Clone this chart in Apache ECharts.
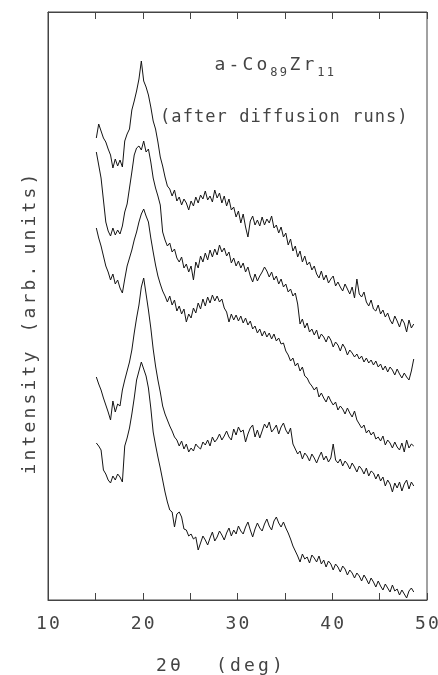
<!DOCTYPE html>
<html>
<head>
<meta charset="utf-8">
<script src="https://cdn.jsdelivr.net/npm/echarts@6/dist/echarts.min.js"></script>
<style>html,body{margin:0;padding:0;background:#fff;}#chart{width:438px;height:675px;}</style>
</head>
<body>
<div id="chart"></div>
<script>
// 2θ sampling grid (deg)
const twoTheta = [
15.10,15.35,15.60,15.85,16.10,16.35,16.60,16.85,17.10,17.35,17.60,17.85,
18.10,18.35,18.60,18.85,19.10,19.35,19.60,19.85,20.10,20.35,20.60,20.85,
21.10,21.35,21.60,21.85,22.10,22.35,22.60,22.85,23.10,23.35,23.60,23.85,
24.10,24.35,24.60,24.85,25.10,25.35,25.60,25.85,26.10,26.35,26.60,26.85,
27.10,27.35,27.60,27.85,28.10,28.35,28.60,28.85,29.10,29.35,29.60,29.85,
30.10,30.35,30.60,30.85,31.10,31.35,31.60,31.85,32.10,32.35,32.60,32.85,
33.10,33.35,33.60,33.85,34.10,34.35,34.60,34.85,35.10,35.35,35.60,35.85,
36.10,36.35,36.60,36.85,37.10,37.35,37.60,37.85,38.10,38.35,38.60,38.85,
39.10,39.35,39.60,39.85,40.10,40.35,40.60,40.85,41.10,41.35,41.60,41.85,
42.10,42.35,42.60,42.85,43.10,43.35,43.60,43.85,44.10,44.35,44.60,44.85,
45.10,45.35,45.60,45.85,46.10,46.35,46.60,46.85,47.10,47.35,47.60,47.85,
48.10,48.35,48.60
];

// intensity (arb. units), offset curves, top to bottom
const curve1 = [
462,476,469,462,458,451,445,432,441,434,
440,433,459,466,471,490,499,509,521,539,
519,513,505,493,479,471,458,443,434,423,
414,411,404,410,399,403,395,401,397,390,
399,394,403,397,405,401,409,400,404,398,
410,402,407,397,404,394,401,390,393,383,
389,377,386,373,363,379,384,375,380,374,
383,375,381,377,384,372,375,367,373,363,
367,355,361,349,354,343,349,338,344,335,
338,330,334,326,322,329,320,325,317,321,
324,314,318,313,309,316,311,306,313,302,
321,306,303,308,298,294,300,291,289,295,
286,290,283,287,280,276,284,279,273,281,
277,268,280,272,276
];
const curve2 = [
448,435,422,400,378,369,364,372,365,370,
366,374,388,396,412,428,445,452,454,450,
459,448,451,438,422,412,404,395,368,360,
354,357,348,351,342,338,343,332,336,328,
334,320,338,332,344,338,347,340,350,343,
351,345,355,348,352,344,348,337,342,334,
339,332,337,328,333,324,318,326,319,324,
328,333,329,323,328,320,324,316,321,313,
316,308,311,304,307,296,276,281,272,277,
268,271,265,270,261,266,263,258,264,260,
253,258,255,249,256,252,245,250,247,243,
246,241,244,238,242,237,240,235,239,233,
236,230,234,228,233,230,225,231,226,222,
227,223,220,229,241
];
const curve3 = [
372,362,354,344,334,328,320,326,316,320,
312,307,321,334,342,350,360,368,378,386,
391,384,378,362,348,335,324,316,309,304,
298,304,295,300,289,294,286,291,278,286,
282,292,287,297,291,301,294,303,297,305,
299,304,298,301,292,288,278,286,280,285,
279,284,277,282,275,279,271,274,267,271,
264,269,263,267,261,266,259,262,256,257,
249,245,239,242,234,237,229,233,224,222,
217,214,210,213,203,207,202,198,204,199,
195,198,190,194,191,186,192,187,183,189,
180,176,172,175,167,170,165,168,161,163,
159,164,155,160,157,152,158,153,150,157,
148,160,152,156,154
];
const curve4 = [
223,216,210,202,195,188,180,199,188,196,
194,210,220,229,238,250,267,282,295,313,
322,306,290,272,251,234,220,208,194,186,
180,174,169,163,160,154,159,151,156,148,
152,149,156,153,151,158,155,160,154,163,
158,161,166,160,164,169,163,160,171,165,
173,168,170,158,166,172,175,163,170,162,
169,176,172,178,168,171,175,166,173,177,
170,166,172,156,151,146,149,141,147,144,
139,146,142,137,143,148,140,144,138,142,
156,140,137,141,134,139,136,131,137,133,
128,134,131,126,132,124,129,127,121,126,
119,123,114,120,116,108,117,112,118,109,
116,120,111,118,114
];
const curve5 = [
157,154,150,130,126,120,117,124,120,126,
123,118,154,162,172,186,202,220,229,238,
231,224,212,192,168,155,143,132,120,108,
98,90,88,73,86,88,83,71,70,64,
66,61,63,50,57,64,60,55,62,68,
59,63,69,65,60,67,72,64,70,66,
74,69,66,73,78,70,63,71,77,72,
69,76,81,74,70,79,83,77,73,78,
72,67,61,54,49,44,38,46,41,43,
37,45,42,38,44,36,40,33,39,36,
30,36,33,28,34,31,25,30,27,22,
27,24,19,25,21,16,22,18,13,19,
14,10,16,12,8,15,9,11,5,10,
6,2,9,12,8
];
const xTickLabels = ['10', '20', '30', '40', '50'];

const FONT = "'DejaVu Sans Mono', monospace";
const TXT = '#444';

function spaced(str, cls, spCls) {
  return str.split('').map(function (ch) {
    return ch === ' ' ? '{' + spCls + '| }' : '{' + cls + '|' + ch + '}';
  }).join('');
}

const chart = echarts.init(document.getElementById('chart'), null, { renderer: 'canvas' });

const axisRich = {
  c: { fontFamily: FONT, fontSize: 18, color: TXT, width: 14, align: 'center', lineHeight: 20 },
  sp: { fontFamily: FONT, fontSize: 18, color: TXT, width: 8, align: 'center', lineHeight: 20 }
};

const seriesList = [curve1, curve2, curve3, curve4, curve5].map(function (c, k) {
  return {
    type: 'line',
    name: 'curve' + (k + 1),
    data: twoTheta.map(function (x, i) { return [x, c[i]]; }),
    showSymbol: false,
    symbol: 'none',
    smooth: false,
    lineStyle: { color: '#151515', width: 1 },
    animation: false,
    silent: true
  };
});

chart.setOption({
  animation: false,
  backgroundColor: '#fff',
  grid: {
    left: 48, right: 11, top: 12, bottom: 75,
    outerBoundsMode: 'none', containLabel: false,
    show: true, borderColor: '#444', borderWidth: 1
  },
  xAxis: [{
    type: 'value', min: 10, max: 50, interval: 5, position: 'bottom',
    axisLine: { show: true, lineStyle: { color: '#444', width: 1 } },
    axisTick: { show: true, inside: true, length: 7, lineStyle: { color: '#444' } },
    splitLine: { show: false },
    axisLabel: {
      margin: 14,
      formatter: function (v) {
        const s = String(v);
        return xTickLabels.indexOf(s) >= 0 ? spaced(s, 'c', 'sp') : '';
      },
      rich: { c: { fontFamily: FONT, fontSize: 18, color: TXT, width: 13, align: 'center', lineHeight: 20 } }
    },
    name: spaced('2θ    (deg)', 'c', 'sp'),
    nameLocation: 'middle',
    nameGap: 56,
    nameTextStyle: { rich: axisRich, padding: [0, 36, 0, 0] }
  }, {
    type: 'value', min: 10, max: 50, interval: 5, position: 'top',
    axisLine: { show: true, lineStyle: { color: '#444', width: 1 } },
    axisTick: { show: true, inside: true, length: 7, lineStyle: { color: '#444' } },
    splitLine: { show: false },
    axisLabel: { show: false }
  }],
  yAxis: [{
    type: 'value', min: 0, max: 588,
    axisLine: { show: true, lineStyle: { color: '#444', width: 1 } },
    axisTick: { show: false },
    axisLabel: { show: false },
    splitLine: { show: false },
    name: spaced('intensity  (arb. units)', 'c', 'sp'),
    nameLocation: 'middle',
    nameRotate: 90,
    nameGap: 8,
    nameTextStyle: { rich: axisRich, padding: [0, 36, 0, 0] }
  }],
  graphic: [{
    type: 'text',
    x: 213, y: 56,
    silent: true,
    style: {
      text: '{m|a}{m|-}{m|C}{m|o}{s|8}{s|9}{m|Z}{m|r}{s|1}{s|1}',
      align: 'left', verticalAlign: 'top',
      rich: {
        m: { fontFamily: FONT, fontSize: 18, fill: TXT, width: 14, align: 'center', lineHeight: 18, verticalAlign: 'top' },
        s: { fontFamily: FONT, fontSize: 12, fill: TXT, width: 9.5, align: 'center', lineHeight: 23, verticalAlign: 'bottom' }
      }
    }
  }, {
    type: 'text',
    x: 159.5, y: 118,
    silent: true,
    style: {
      text: spaced('(after diffusion runs)', 'c', 'c'),
      align: 'left', verticalAlign: 'middle',
      rich: {
        c: { fontFamily: FONT, fontSize: 17, fill: TXT, width: 11.3, align: 'center', lineHeight: 20 }
      }
    }
  }],
  series: seriesList
});
</script>
</body>
</html>
